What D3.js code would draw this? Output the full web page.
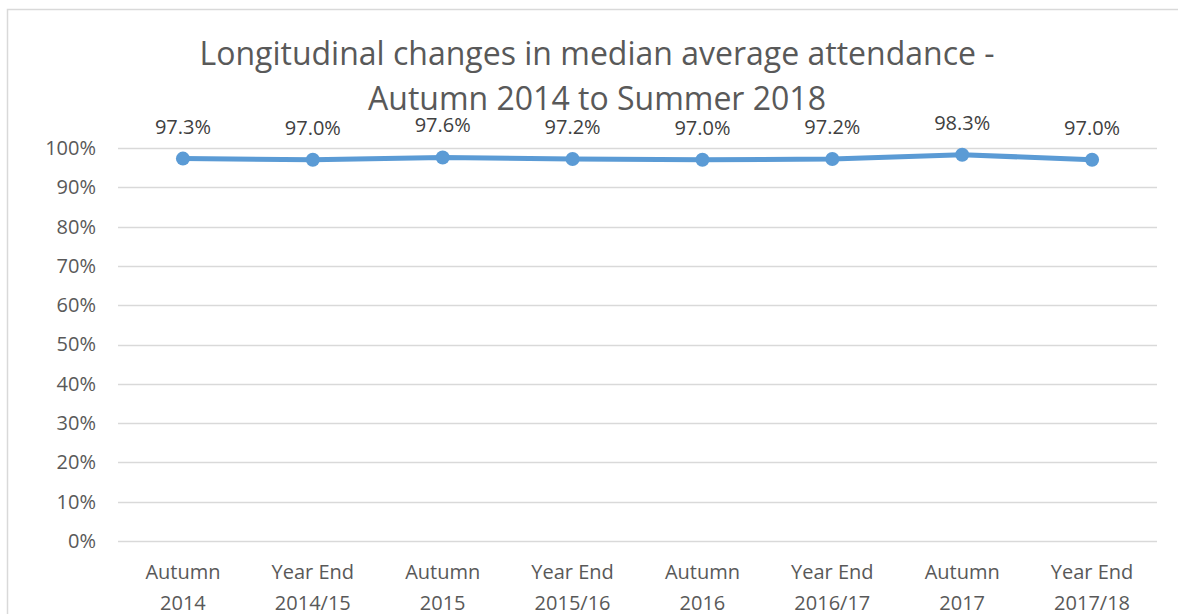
<!DOCTYPE html>
<html>
<head>
<meta charset="utf-8">
<script src="https://cdn.jsdelivr.net/npm/d3@7"></script>
<style>
  body { margin: 0; background: #fff; }
  svg { display: block; font-family: "Open Sans", sans-serif; }
</style>
</head>
<body>
<div id="chart"></div>
<script>
// Chart data
const categories = [
  ['Autumn', '2014'], ['Year End', '2014/15'], ['Autumn', '2015'], ['Year End', '2015/16'],
  ['Autumn', '2016'], ['Year End', '2016/17'], ['Autumn', '2017'], ['Year End', '2017/18']
];
const attendance = [0.973, 0.970, 0.976, 0.972, 0.970, 0.972, 0.983, 0.970];
const yTicks = [0, 0.1, 0.2, 0.3, 0.4, 0.5, 0.6, 0.7, 0.8, 0.9, 1.0];
const titleLines = ['Longitudinal changes in median average attendance -', 'Autumn 2014 to Summer 2018'];

const width = 1178, height = 614;
const margin = { top: 148, right: 21, bottom: 73, left: 118 };
const textColor = '#595959';
const lineColor = '#5B9BD5';

const svg = d3.select('#chart').append('svg')
  .attr('width', width)
  .attr('height', height);

// Chart frame
svg.append('path')
  .attr('d', `M7.5,${height} V9.5 H${width}`)
  .attr('fill', 'none')
  .attr('stroke', '#d9d9d9')
  .attr('stroke-width', 1.5);

const x = d3.scaleBand()
  .domain(d3.range(categories.length))
  .range([margin.left, width - margin.right]);

const y = d3.scaleLinear()
  .domain([0, 1])
  .range([height - margin.bottom, margin.top]);

// Gridlines
svg.append('g')
  .selectAll('line')
  .data(yTicks)
  .join('line')
  .attr('x1', margin.left)
  .attr('x2', width - margin.right)
  .attr('y1', d => Math.round(y(d)) + 0.5)
  .attr('y2', d => Math.round(y(d)) + 0.5)
  .attr('stroke', '#d9d9d9')
  .attr('stroke-width', 1.5);

// Y axis labels
const yAxis = svg.append('g')
  .attr('transform', `translate(${margin.left - 22},0)`)
  .call(d3.axisLeft(y).tickValues(yTicks).tickFormat(d3.format('.0%')).tickSize(0).tickPadding(0));
yAxis.select('.domain').remove();
yAxis.selectAll('text')
  .attr('fill', textColor)
  .attr('font-size', 20)
  .attr('font-family', '"Open Sans", sans-serif');

// X axis labels (two lines)
const xLabels = svg.append('g')
  .selectAll('text')
  .data(categories)
  .join('text')
  .attr('x', (d, i) => x(i) + x.bandwidth() / 2)
  .attr('y', 579)
  .attr('text-anchor', 'middle')
  .attr('fill', textColor)
  .attr('font-size', 20);
xLabels.selectAll('tspan')
  .data(d => d)
  .join('tspan')
  .attr('x', function () { return this.parentNode.getAttribute('x'); })
  .attr('dy', (d, i) => i === 0 ? 0 : 31)
  .text(d => d);

// Line
const cx = i => x(i) + x.bandwidth() / 2;
svg.append('path')
  .datum(attendance)
  .attr('fill', 'none')
  .attr('stroke', lineColor)
  .attr('stroke-width', 5)
  .attr('stroke-linejoin', 'round')
  .attr('d', d3.line().x((d, i) => cx(i)).y(d => y(d)));

// Markers
svg.append('g')
  .selectAll('circle')
  .data(attendance)
  .join('circle')
  .attr('cx', (d, i) => cx(i))
  .attr('cy', d => y(d))
  .attr('r', 7)
  .attr('fill', lineColor);

// Data labels
svg.append('g')
  .selectAll('text')
  .data(attendance)
  .join('text')
  .attr('x', (d, i) => cx(i))
  .attr('y', d => y(d) - 25)
  .attr('text-anchor', 'middle')
  .attr('fill', '#404040')
  .attr('font-size', 20)
  .text(d => d3.format('.1%')(d));

// Title
svg.append('g')
  .selectAll('text')
  .data(titleLines)
  .join('text')
  .attr('x', 597)
  .attr('y', (d, i) => 65 + i * 45)
  .attr('text-anchor', 'middle')
  .attr('fill', textColor)
  .attr('font-size', 32)
  .text(d => d);
</script>
</body>
</html>
